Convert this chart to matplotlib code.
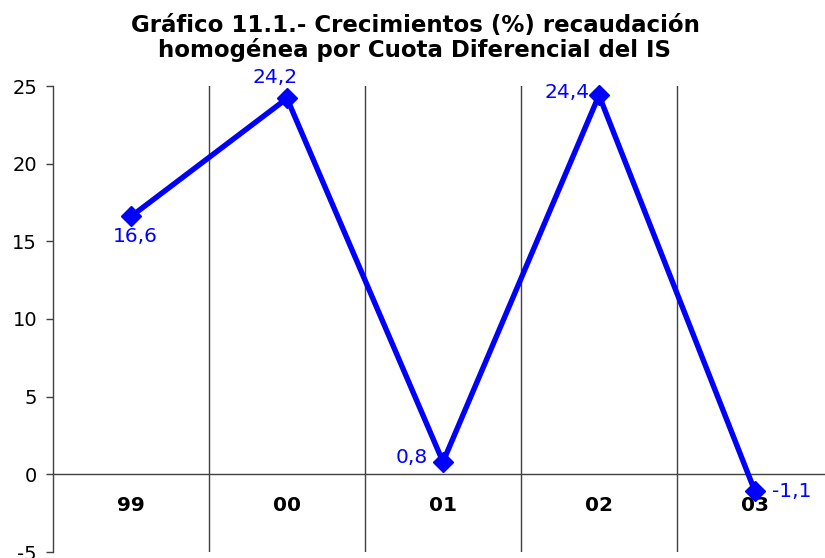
import matplotlib
matplotlib.use("Agg")
import matplotlib.pyplot as plt
import numpy as np

categories = ["99", "00", "01", "02", "03"]
values = [16.6, 24.2, 0.8, 24.4, -1.1]
value_labels = ["16,6", "24,2", "0,8", "24,4", "-1,1"]
yticks = [-5, 0, 5, 10, 15, 20, 25]
title_lines = ["Gráfico 11.1.- Crecimientos (%) recaudación",
               "homogénea por Cuota Diferencial del IS"]

W, H = 825, 558
fig = plt.figure(figsize=(W / 100, H / 100), dpi=100)
ax = fig.add_axes([53 / W, (H - 552) / H, (833 - 53) / W, (552 - 86) / H])
ax.set_xlim(-0.5, len(categories) - 0.5)
ax.set_ylim(-5, 25)

x = np.arange(len(categories))
blue = "#0000FF"
ax.plot(x, values, color=blue, lw=3.9, marker="D", ms=10.5, mec=blue, mfc=blue,
        zorder=5, clip_on=False)

# vertical separators
for b in np.arange(0.5, len(categories) - 0.5, 1):
    ax.axvline(b, color="#404040", lw=1.0, zorder=1)
ax.axhline(0, color="#404040", lw=1.0, zorder=1)

for s in ["top", "right", "bottom"]:
    ax.spines[s].set_visible(False)
ax.spines["left"].set_color("#404040")
ax.spines["left"].set_linewidth(1.0)

ax.set_yticks(yticks)
ax.set_yticklabels([str(t) for t in yticks], fontsize=14)
ax.tick_params(axis="y", length=5, width=1.0, color="#404040", pad=6.5)
ax.set_xticks([])

for i, c in enumerate(categories):
    ax.text(i, -2.0, c, ha="center", va="center", fontsize=14.5, fontweight="bold", zorder=4)

# (dx in category units, dy in data units, ha)
offsets = [(0.03, -1.3, "center"),
           (0.065, 1.36, "right"),
           (-0.095, 0.3, "right"),
           (-0.06, 0.2, "right"),
           (0.11, 0.0, "left")]
for i, (v, lab) in enumerate(zip(values, value_labels)):
    dx, dy, ha = offsets[i]
    ax.text(i + dx, v + dy, lab, color=blue, fontsize=14.5, ha=ha, va="center",
            clip_on=False, zorder=6)

fig.text(415 / W, (H - 32) / H, title_lines[0], ha="center", va="baseline",
         fontsize=16.5, fontweight="bold")
fig.text(414 / W, (H - 57) / H, title_lines[1], ha="center", va="baseline",
         fontsize=16.5, fontweight="bold")

fig.savefig("out.png", dpi=100)
